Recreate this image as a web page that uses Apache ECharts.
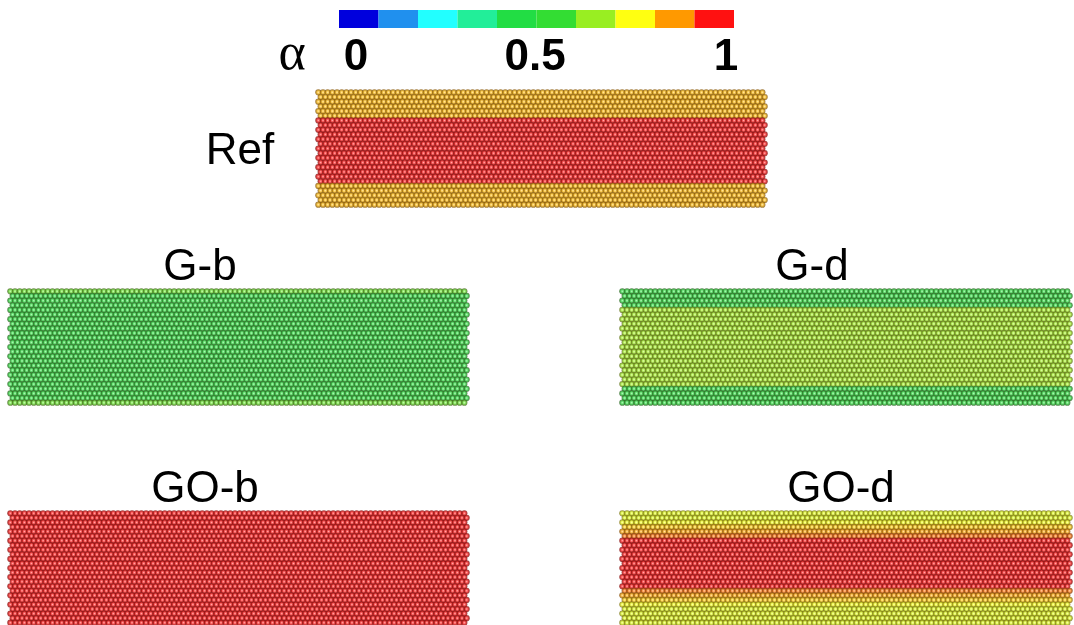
<!DOCTYPE html>
<html><head><meta charset="utf-8">
<script src="https://cdn.jsdelivr.net/npm/echarts@6/dist/echarts.min.js"></script>
<style>html,body{margin:0;padding:0;background:#fff;}#c{width:1074px;height:625px;}</style>
</head><body><div id="c"></div>
<script>
// ---- data ----
const colorbarColors = ['#0000dd','#2090ee','#22ffff','#22ee99','#22dd44','#33dd33','#99ee22','#ffff11','#ff9900','#ff1111'];
const colorbarBins = ['0-0.1','0.1-0.2','0.2-0.3','0.3-0.4','0.4-0.5','0.5-0.6','0.6-0.7','0.7-0.8','0.8-0.9','0.9-1'];
const tickValues = [0, 0.5, 1];
const tickLabels = ['0', '0.5', '1'];
const panelNames = ['Ref', 'G-b', 'G-d', 'GO-b', 'GO-d'];
// alpha value of each atomic row (top to bottom)
const refRows = [0.82,0.82,0.82,0.82,0.82,0.82, 1,1,1,1,1,1,1,1,1,1,1,1,1,1, 0.82,0.82,0.82,0.82,0.82];
const gbRows  = [0.6, 0.5,0.5,0.5,0.5,0.5,0.5,0.5,0.5,0.5,0.5,0.5,0.5,0.5,0.5,0.5,0.5,0.5,0.5,0.5,0.5,0.5,0.5,0.5, 0.6];
const gdRows  = [0.5,0.5,0.5,0.5, 0.66,0.66,0.66,0.66,0.66,0.66,0.66,0.66,0.66,0.66,0.66,0.66,0.66,0.66,0.66,0.66,0.66, 0.5,0.5,0.5,0.5];
const gobRows = [1,1,1,1,1,1,1,1,1,1,1,1,1,1,1,1,1,1,1,1,1,1,1,1,1];
const godRows = [0.72,0.72,0.74,0.8,0.84,0.88, 1,1,1,1,1,1,1,1,1,1,1, 0.88,0.84,0.8,0.74,0.72,0.72,0.72,0.72];
const panelRows = [refRows, gbRows, gdRows, gobRows, godRows];

// ---- layout ----
const panelBoxes = [
  {left:316, top:90,  width:451, height:117, label:{x:240, y:152}},
  {left:8,   top:289, width:461, height:116, label:{x:200, y:268}},
  {left:620, top:289, width:452, height:116, label:{x:812, y:268}},
  {left:8,   top:511, width:461, height:116, label:{x:205, y:490}},
  {left:620, top:511, width:452, height:116, label:{x:841, y:490}}
];
const pitch = 4.7;

function hex2rgb(h){return [parseInt(h.substr(1,2),16),parseInt(h.substr(3,2),16),parseInt(h.substr(5,2),16)];}
function rgbStr(c){return 'rgb('+c.map(v=>Math.round(Math.max(0,Math.min(255,v)))).join(',')+')';}
function mix(a,b,t){return a.map((v,i)=>v+(b[i]-v)*t);}
function cmap(v){
  let p = v*10 - 0.5;
  p = Math.max(0, Math.min(colorbarColors.length-1, p));
  const i = Math.floor(p), f = p - i;
  const a = hex2rgb(colorbarColors[i]);
  const b = hex2rgb(colorbarColors[Math.min(i+1, colorbarColors.length-1)]);
  return mix(a,b,f);
}
const gradCache = {};
function atomColor(v){
  if (gradCache[v]) return gradCache[v];
  const base = cmap(v);
  const g = {type:'radial', x:0.5, y:0.5, r:0.5, colorStops:[
    {offset:0, color: rgbStr(mix(base,[255,255,255],0.6))},
    {offset:0.3, color: rgbStr(mix(base,[255,255,255],0.2))},
    {offset:0.6, color: rgbStr(mix(base,[0,0,0],0.22))},
    {offset:1, color: rgbStr(mix(base,[50,20,20],0.6))}
  ]};
  gradCache[v] = g; return g;
}

const grids = [], xAxes = [], yAxes = [], series = [], graphics = [];

// colorbar
grids.push({left:339, top:10, width:395, height:18});
xAxes.push({type:'category', gridIndex:0, data:colorbarBins, show:false});
xAxes.push({type:'value', gridIndex:0, min:-0.046, max:1.0216, position:'bottom',
  axisLine:{show:false}, axisTick:{show:false}, splitLine:{show:false},
  axisLabel:{customValues:tickValues, margin:8, color:'#000',
    formatter: v => { const s = tickLabels[tickValues.indexOf(v)]; return v === 0.5 ? '{m|' + s + '}' : '{n|' + s + '}'; },
    rich:{
      n:{fontSize:44, fontWeight:'bold', fontFamily:'Liberation Sans, Arial, sans-serif', color:'#000'},
      m:{fontSize:44, fontWeight:'bold', fontFamily:'Liberation Sans, Arial, sans-serif', color:'#000', padding:[0,12,0,0]}
    }}});
yAxes.push({type:'value', gridIndex:0, min:0, max:1, show:false});
series.push({type:'bar', xAxisIndex:0, yAxisIndex:0, barWidth:'100%', barCategoryGap:0,
  data: colorbarColors.map((c)=>({value:1, itemStyle:{color:c}})), silent:true});

panelRows.forEach((rows, k) => {
  const b = panelBoxes[k];
  const gi = grids.length;
  grids.push({left:b.left, top:b.top, width:b.width, height:b.height});
  const ncols = Math.round(b.width / pitch);
  xAxes.push({type:'value', gridIndex:gi, min:-0.5, max:ncols, show:false});
  yAxes.push({type:'value', gridIndex:gi, min:-0.5, max:rows.length-0.5, inverse:true, show:false});
  const data = [];
  rows.forEach((v, r) => {
    const off = (r % 2) * 0.5;
    for (let c = 0; c < ncols; c++) {
      data.push({value:[c + off, r, v], itemStyle:{color: atomColor(v)}});
    }
  });
  series.push({type:'scatter', xAxisIndex:xAxes.length-1, yAxisIndex:yAxes.length-1,
    symbol:'circle', symbolSize:6.2, data, silent:true, clip:true});
  graphics.push({type:'text', x:b.label.x, y:b.label.y, style:{text:panelNames[k], fontSize:44,
    fontFamily:'Liberation Sans, Arial, sans-serif', fill:'#000', textAlign:'center', textVerticalAlign:'middle'}});
});

graphics.push({type:'text', x:292, y:55, style:{text:'α', fontSize:52, fontFamily:'Liberation Serif, Times New Roman, serif',
  fill:'#000', textAlign:'center', textVerticalAlign:'middle'}});

const chart = echarts.init(document.getElementById('c'), null, {renderer:'canvas'});
chart.setOption({animation:false, backgroundColor:'#fff', grid:grids, xAxis:xAxes, yAxis:yAxes, series, graphic:graphics});
</script></body></html>
